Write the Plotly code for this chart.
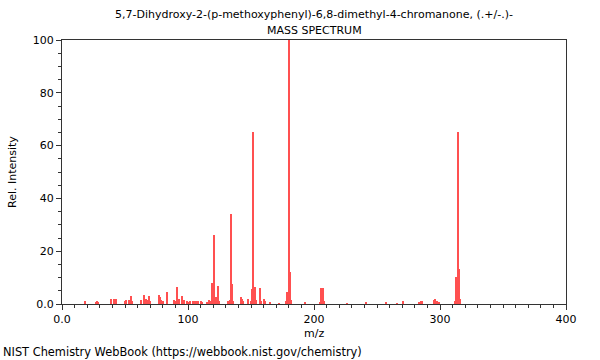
import plotly.graph_objects as go

title_line1 = "5,7-Dihydroxy-2-(p-methoxyphenyl)-6,8-dimethyl-4-chromanone, (.+/-.)-"
title_line2 = "MASS SPECTRUM"
footer = "NIST Chemistry WebBook (https://webbook.nist.gov/chemistry)"

mz = [18, 27, 28, 29, 39, 41, 43, 50, 51, 53, 55, 56,
      63, 65, 66, 67, 68, 69, 70, 77, 78, 79, 80, 83,
      89, 90, 91, 92, 93, 95, 96, 97, 99, 100, 102, 104, 105, 106, 107, 108,
      110, 111, 115, 117, 118, 119, 121, 122, 123, 124, 125,
      132, 133, 134, 135, 136, 142, 143, 144, 148,
      150, 151, 152, 153, 154, 157, 158, 160, 161, 165, 172,
      178, 179, 180, 181, 182, 193, 205, 206, 207, 208,
      226, 241, 257, 266, 271, 283, 285, 286,
      295, 296, 297, 298, 299, 312, 313, 314, 315, 316]
intensity = [1.0, 0.8, 1.2, 0.6, 2.0, 2.0, 2.0, 1.0, 1.5, 1.5, 3.0, 1.0,
             1.5, 3.5, 1.5, 2.0, 1.5, 3.0, 1.0, 3.5, 2.5, 1.5, 1.0, 4.6,
             1.5, 1.0, 6.3, 2.0, 2.0, 3.0, 1.5, 1.5, 1.0, 0.8, 1.0, 1.0, 1.0, 1.0, 1.0, 1.0,
             1.0, 0.8, 0.5, 1.5, 1.0, 8.0, 26.0, 2.5, 2.0, 7.0, 1.0,
             1.0, 1.5, 34.0, 7.7, 1.0, 2.5, 2.0, 1.0, 2.0,
             1.0, 5.6, 65.0, 6.6, 1.5, 6.0, 1.0, 2.0, 1.0, 0.5, 0.3,
             1.0, 4.4, 100.0, 12.0, 1.5, 0.5, 0.5, 6.0, 6.0, 1.0,
             0.3, 0.5, 0.5, 0.3, 1.3, 0.8, 1.0, 1.0,
             1.5, 2.0, 1.3, 1.0, 0.8, 1.2, 10.4, 65.0, 13.4, 2.0]

x_tickvals = [0, 100, 200, 300, 400]
x_ticktext = ["0.0", "100", "200", "300", "400"]
y_tickvals = [0, 20, 40, 60, 80, 100]
y_ticktext = ["0.0", "20", "40", "60", "80", "100"]

font = "DejaVu Sans, Liberation Sans, sans-serif"

fig = go.Figure()
fig.add_trace(go.Bar(
    x=mz, y=intensity, width=0.9,
    marker=dict(color="rgb(255,80,80)", line=dict(width=0)),
    hovertemplate="m/z %{x}: %{y}<extra></extra>",
))

axis_common = dict(
    showgrid=False, zeroline=False, showline=True, linecolor="#333",
    linewidth=1, mirror=True, ticks="outside", ticklen=5, tickcolor="#333",
    tickfont=dict(family=font, size=11, color="black"),
)

fig.update_layout(
    width=600, height=360,
    margin=dict(l=62, r=34, t=40, b=56),
    paper_bgcolor="white", plot_bgcolor="white",
    showlegend=False, bargap=0,
    font=dict(family=font, size=11, color="black"),
    xaxis=dict(range=[0, 400], tickvals=x_tickvals, ticktext=x_ticktext,
               minor=dict(dtick=10, tick0=0, ticks="outside", ticklen=3, tickcolor="#333"),
               **axis_common),
    yaxis=dict(range=[0, 100], tickvals=y_tickvals, ticktext=y_ticktext,
               minor=dict(dtick=5, tick0=0, ticks="outside", ticklen=3, tickcolor="#333"),
               **axis_common),
    annotations=[
        dict(text=title_line1, xref="paper", yref="paper", x=0.5, y=1, yshift=26,
             xanchor="center", yanchor="middle", showarrow=False,
             font=dict(family=font, size=11, color="black")),
        dict(text=title_line2, xref="paper", yref="paper", x=0.5, y=1, yshift=10,
             xanchor="center", yanchor="middle", showarrow=False,
             font=dict(family=font, size=11, color="black")),
        dict(text="m/z", xref="paper", yref="paper", x=0.5, y=0, yshift=-29,
             xanchor="center", yanchor="middle", showarrow=False,
             font=dict(family=font, size=11, color="black")),
        dict(text="Rel. Intensity", xref="paper", yref="paper", x=0, y=0.5, xshift=-50,
             xanchor="center", yanchor="middle", textangle=-90, showarrow=False,
             font=dict(family=font, size=11, color="black")),
        dict(text=footer, xref="paper", yref="paper", x=0, y=0, xshift=-61, yshift=-48,
             xanchor="left", yanchor="middle", showarrow=False,
             font=dict(family=font, size=11.4, color="black")),
    ],
)

fig.write_html("out.html", config={"displayModeBar": False},
               post_script="document.body.style.margin='0';")
